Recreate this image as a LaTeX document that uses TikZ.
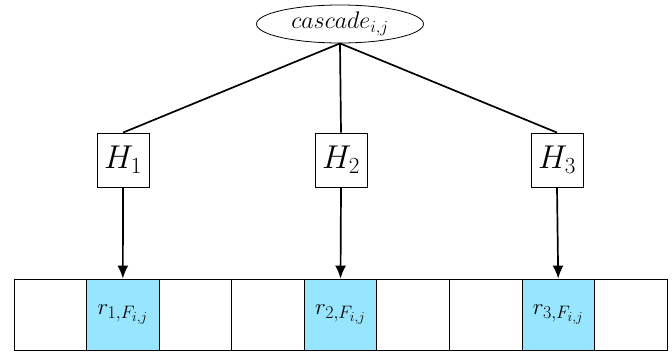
\RequirePackage{fix-cm}
\documentclass[tikz,border=0pt]{standalone}
\usetikzlibrary{arrows.meta,shapes.geometric}
\definecolor{cellblue}{RGB}{152,229,255}
% larger script sizes for the bucket labels
\DeclareMathSizes{23}{23}{18}{14}
\begin{document}
\begin{tikzpicture}[x=1pt,y=-1pt,
  root/.style={draw,ellipse,minimum width=167pt,minimum height=38pt,inner sep=0pt,line width=0.8pt,
    font=\fontsize{24}{28}\selectfont},
  hashbox/.style={draw,rectangle,minimum width=52pt,minimum height=54pt,inner sep=0pt,line width=0.8pt,
    font=\fontsize{33}{36}\selectfont},
  cell/.style={draw,rectangle,minimum width=72.56pt,minimum height=71pt,inner sep=0pt,line width=0.8pt,
    font=\fontsize{23}{26}\selectfont},
  hot/.style={cell,fill=cellblue},
  branch/.style={line width=1.7pt},
  probe/.style={line width=1.7pt,-{Latex[length=13pt,width=11pt]}}
]
\useasboundingbox (0,0) rectangle (672,353);

% root of the cascade
\node[root] (c) at (340,24) {$cascade_{i,j}$};

% hash functions
\node[hashbox] (h1) at (123,160) {$H_1$};
\node[hashbox] (h2) at (341,160) {$H_2$};
\node[hashbox] (h3) at (557,160) {$H_3$};

% row of buckets
\foreach \k in {0,...,8} {
  \pgfmathsetmacro{\cx}{14+72.56*\k+36.28}
  \ifnum\k=1 \node[hot] (b\k) at (\cx,314.5) {$r_{1,F_{i,j}}$};
  \else\ifnum\k=4 \node[hot] (b\k) at (\cx,314.5) {$r_{2,F_{i,j}}$};
  \else\ifnum\k=7 \node[hot] (b\k) at (\cx,314.5) {$r_{3,F_{i,j}}$};
  \else \node[cell] (b\k) at (\cx,314.5) {};
  \fi\fi\fi
}

% branches
\draw[branch] (c.south) -- (h1.north);
\draw[branch] (c.south) -- (h2.north);
\draw[branch] (c.south) -- (h3.north);

% probes into the buckets
\draw[probe] (h1.south) -- (b1.north);
\draw[probe] (h2.south) -- (b4.north);
\draw[probe] (h3.south) -- (b7.north);
\end{tikzpicture}
\end{document}
